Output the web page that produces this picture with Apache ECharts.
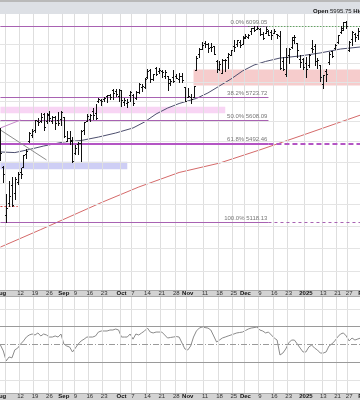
<!DOCTYPE html>
<html><head><meta charset="utf-8">
<script src="https://cdn.jsdelivr.net/npm/echarts@6/dist/echarts.min.js"></script>
<style>html,body{margin:0;padding:0;background:#fff}#c{width:360px;height:400px}</style>
</head><body><div id="c"></div>
<script>
const dates = [
'2024-08-01','2024-08-02','2024-08-05','2024-08-06','2024-08-07','2024-08-08','2024-08-09','2024-08-12','2024-08-13','2024-08-14','2024-08-15','2024-08-16','2024-08-19','2024-08-20','2024-08-21','2024-08-22','2024-08-23','2024-08-26','2024-08-27','2024-08-28','2024-08-29','2024-08-30',
'2024-09-03','2024-09-04','2024-09-05','2024-09-06','2024-09-09','2024-09-10','2024-09-11','2024-09-12','2024-09-13','2024-09-16','2024-09-17','2024-09-18','2024-09-19','2024-09-20','2024-09-23','2024-09-24','2024-09-25','2024-09-26','2024-09-27','2024-09-30',
'2024-10-01','2024-10-02','2024-10-03','2024-10-04','2024-10-07','2024-10-08','2024-10-09','2024-10-10','2024-10-11','2024-10-14','2024-10-15','2024-10-16','2024-10-17','2024-10-18','2024-10-21','2024-10-22','2024-10-23','2024-10-24','2024-10-25','2024-10-28','2024-10-29','2024-10-30','2024-10-31',
'2024-11-01','2024-11-04','2024-11-05','2024-11-06','2024-11-07','2024-11-08','2024-11-11','2024-11-12','2024-11-13','2024-11-14','2024-11-15','2024-11-18','2024-11-19','2024-11-20','2024-11-21','2024-11-22','2024-11-25','2024-11-26','2024-11-27','2024-11-29',
'2024-12-02','2024-12-03','2024-12-04','2024-12-05','2024-12-06','2024-12-09','2024-12-10','2024-12-11','2024-12-12','2024-12-13','2024-12-16','2024-12-17','2024-12-18','2024-12-19','2024-12-20','2024-12-23','2024-12-24','2024-12-26','2024-12-27','2024-12-30','2024-12-31',
'2025-01-02','2025-01-03','2025-01-06','2025-01-07','2025-01-08','2025-01-10','2025-01-13','2025-01-14','2025-01-15','2025-01-16','2025-01-17','2025-01-21','2025-01-22','2025-01-23','2025-01-24','2025-01-27','2025-01-28','2025-01-29','2025-01-30','2025-01-31',
'2025-02-03'];

const opens = [5537,5376,5151,5206,5293,5252,5305,5351,5376,5442,5504,5531,5557,5602,5603,5637,5603,5639,5602,5624,5607,5612,
5623,5506,5520,5507,5443,5490,5496,5558,5603,5615,5655,5641,5703,5709,5712,5727,5733,5762,5755,5727,
5758,5698,5696,5737,5737,5719,5751,5778,5775,5829,5866,5816,5872,5859,5857,5832,5834,5817,5826,5833,5819,5832,5776,
5723,5725,5722,5864,5947,5977,6008,6003,5985,5989,5913,5870,5850,5917,5935,5944,5992,6000,6015,6003,
6040,6042,6070,6089,6082,6083,6058,6061,6074,6069,6063,6053,6047,5912,5842,5941,5984,6025,6006,5920,5920,
5903,5892,5982,5993,5911,5890,5789,5859,5905,5965,5979,6015,6069,6076,6122,5970,6027,6058,6050,6096,
5969];
const highs = [5566,5383,5250,5312,5330,5328,5351,5371,5436,5463,5546,5563,5608,5620,5643,5643,5641,5651,5630,5627,5646,5651,
5623,5553,5551,5523,5484,5497,5560,5600,5636,5637,5670,5690,5721,5716,5725,5735,5742,5767,5764,5763,
5758,5720,5715,5753,5739,5757,5796,5792,5822,5871,5870,5843,5878,5872,5866,5863,5834,5817,5862,5842,5847,5850,5776,
5772,5741,5783,5936,5983,6013,6018,6009,6008,5993,5915,5909,5924,5921,5954,5972,6021,6025,6021,6045,
6053,6053,6087,6099,6100,6089,6065,6093,6079,6079,6085,6057,6070,5935,5982,5978,6040,6049,6007,5941,5929,
5935,5950,6021,6001,5928,5890,5838,5871,5961,5965,6001,6051,6100,6119,6128,6017,6070,6062,6086,6120,
6022];
const lows = [5410,5306,5119,5193,5195,5224,5294,5324,5376,5419,5497,5525,5550,5585,5598,5560,5591,5602,5593,5561,5583,5584,
5521,5504,5489,5402,5442,5442,5406,5536,5601,5604,5614,5615,5698,5681,5704,5698,5713,5715,5731,5703,
5676,5683,5673,5704,5686,5714,5745,5757,5771,5824,5804,5810,5840,5846,5825,5822,5762,5784,5800,5823,5802,5800,5703,
5723,5696,5722,5864,5935,5976,5987,5961,5965,5946,5853,5865,5850,5860,5875,5944,5964,5992,5984,6003,
6034,6034,6057,6071,6081,6048,6026,6060,6051,6030,6059,6035,5867,5866,5832,5903,5981,6007,5933,5879,5869,
5829,5880,5960,5890,5874,5809,5773,5807,5897,5931,5976,6007,6062,6075,6088,5962,5994,6020,6027,6030,
5923];
const closes = [5446,5346,5186,5240,5199,5319,5344,5344,5434,5455,5543,5554,5608,5597,5621,5571,5634,5617,5625,5592,5592,5648,
5529,5520,5503,5408,5471,5496,5554,5596,5626,5633,5634,5618,5714,5703,5718,5732,5722,5745,5738,5762,
5709,5709,5699,5751,5696,5751,5792,5780,5815,5859,5815,5842,5841,5864,5853,5851,5797,5809,5808,5823,5832,5813,5705,
5728,5712,5782,5929,5973,5996,6001,5983,5985,5949,5871,5893,5917,5917,5949,5970,5987,6021,5999,6032,
6047,6050,6086,6075,6090,6053,6034,6085,6051,6051,6074,6050,5872,5867,5931,5974,6040,6037,5971,5907,5882,
5869,5942,5975,5909,5918,5827,5836,5843,5950,5937,5997,6049,6086,6119,6101,6012,6068,6039,6071,6041,
5994];

const rsiValues = [49.4,42.7,31.5,36,35,44,46,50.6,54,58.4,
60.7,61.8,60.7,63,59.6,61.8,60.7,58.4,58.4,59.6,
58.4,61.8,50.6,48.3,47.2,41.6,46,50.6,54,56,
58.4,58.4,58.4,59.6,64,65.2,65.2,65.2,66.3,66.3,
67.4,66.3,58.4,58.4,58.4,61.8,56,61.8,60.7,63,
65.2,68.5,64,63,64,64,64,60.7,57.3,57.9,
58.4,59,58.4,51.7,45,43.8,48.3,58.4,65.2,68.5,
69.7,69,68.5,66.3,59.6,52.8,55,57.3,58.4,59.6,
60.7,61.8,63,63.5,64,65.7,67.4,68.5,69,69.7,
66.3,65.2,63,64,60.7,57.3,55,38.2,40.4,45,
51.7,55,55,50.6,46,41.6,41.6,47.2,49.4,46,
43.8,40.4,40.4,41.6,48.3,50.6,54,58.4,61.8,63,
59.6,54,57.3,55,56.2,57.3,null];

const ma50Dates  = ['2024-08-01','2024-08-08','2024-08-15','2024-08-22','2024-09-03','2024-09-11','2024-09-19','2024-09-27','2024-10-07','2024-10-11','2024-10-17','2024-10-23','2024-10-29','2024-11-01','2024-11-06','2024-11-12','2024-11-18','2024-11-22','2024-11-29','2024-12-05','2024-12-11','2024-12-18','2024-12-30','2025-01-10','2025-01-22','2025-01-31'];
const ma50Values = [5450,5447,5462,5479,5499,5506,5523,5543,5568,5598,5638,5668,5691,5704,5717,5745,5781,5817,5859,5890,5909,5927,5938,5954,5975,5986];
const ma200Dates  = ['2024-08-01','2024-08-21','2024-09-20','2024-10-09','2024-10-29','2024-11-18','2024-12-09','2024-12-30','2025-01-31'];
const ma200Values = [5006,5085,5209,5282,5351,5396,5460,5528,5633];

const fibPct    = ['0.0%','38.2%','50.0%','61.8%','100.0%'];
const fibLevels = [6099.05,5723.72,5608.09,5492.46,5118.13];
const priceGrid = [4900,5000,5100,5200,5300,5400,5500,5600,5700,5800,5900,6000,6100];
const rsiLevels = [70,50,30];
const rsiGrid = [10,90];

const pinkZone = {from:'2024-08-01', to:'2024-11-20', top:5675, bottom:5642};
const blueZone = {from:'2024-08-01', to:'2024-10-03', top:5403, bottom:5367};
const redZone  = {from:'2024-11-05', to:'2025-02-03', top:5867, bottom:5783};
const trendA = [['2024-08-01',5568],['2024-08-12',5608]];
const trendB = [['2024-08-01',5558],['2024-08-23',5411]];
const supportLine = [['2024-08-01',5193],['2024-08-09',5193]];

const tickDates = ['2024-08-01','2024-08-12','2024-08-19','2024-08-26','2024-09-03','2024-09-09','2024-09-16','2024-09-23','2024-10-01','2024-10-07','2024-10-14','2024-10-21','2024-10-28','2024-11-01','2024-11-11','2024-11-18','2024-11-25','2024-12-02','2024-12-09','2024-12-16','2024-12-23','2025-01-02','2025-01-13','2025-01-21','2025-01-27','2025-02-03'];
const tickText  = ['Aug','12','19','26','Sep','9','16','23','Oct','7','14','21','28','Nov','11','18','25','Dec','9','16','23','2025','13','21','27','Feb'];
const headerOpen = '5995.75';

// ---------------------------------------------------------------
const tickMap = {}; tickDates.forEach((d,i)=>{tickMap[d]=tickText[i];});
const gridSet = new Set(tickDates.concat(['2024-08-05']));
const ohlc = dates.map((d,i)=>[i, opens[i], highs[i], lows[i], closes[i]]);
const last = dates[dates.length-1];
const FONT = 'Liberation Sans';

function xAxis(gi){
  return {
    type:'category', gridIndex:gi, data:dates, boundaryGap:true, z:5,
    axisLine:{show:false}, axisTick:{show:false},
    axisLabel:{
      interval:(i,v)=>v in tickMap, margin:0, fontSize:6, lineHeight:7, color:'#333', fontFamily:FONT,
      formatter:v=>{const t=tickMap[v]; if(t===undefined) return ''; return /^\d{1,2}$/.test(t)?t:'{b|'+t+'}';},
      rich:{b:{fontWeight:'bold',fontSize:6,lineHeight:7,color:'#111',fontFamily:FONT}}
    },
    splitLine:{show:true, interval:(i,v)=>gridSet.has(v), lineStyle:{color:'#dedede',width:1}}
  };
}

function renderOHLC(params, api){
  const i = api.value(0);
  const o = api.coord([i, api.value(1)]);
  const h = api.coord([i, api.value(2)]);
  const l = api.coord([i, api.value(3)]);
  const c = api.coord([i, api.value(4)]);
  const cx = Math.round(o[0]) + 0.5;
  const yo = Math.round(o[1]) + 0.5, yc = Math.round(c[1]) + 0.5;
  const st = {stroke:'#111', lineWidth:1};
  return {type:'group', children:[
    {type:'line', shape:{x1:cx,y1:Math.round(h[1]),x2:cx,y2:Math.round(l[1])+1}, style:st},
    {type:'line', shape:{x1:cx-1.5,y1:yo,x2:cx,y2:yo}, style:st},
    {type:'line', shape:{x1:cx,y1:yc,x2:cx+1.5,y2:yc}, style:st}
  ]};
}

const fibSegs = [];
fibLevels.forEach((lv,i)=>{
  const thick = fibPct[i]==='61.8%';
  fibSegs.push([
    {coord:[dates[0],lv], lineStyle:{color:thick?'#b455c4':'#a862b2', width:thick?2:1, type:'solid'},
     label:{show:true, position:'insideEndTop', formatter:fibPct[i]+' '+lv.toFixed(2), color:'#777', fontSize:6, fontFamily:FONT, distance:1}},
    {coord:['2024-12-12',lv]}
  ]);
});
fibSegs.push([{coord:['2024-12-03',fibLevels[0]], lineStyle:{color:'#2e8b2e',width:1,type:[1,2]}, label:{show:false}},{coord:[last,fibLevels[0]]}]);
fibSegs.push([{coord:['2024-12-12',fibLevels[3]], lineStyle:{color:'#b455c4',width:2,type:[5,3]}, label:{show:false}},{coord:[last,fibLevels[3]]}]);
fibSegs.push([{coord:['2024-12-12',fibLevels[4]], lineStyle:{color:'#a862b2',width:1,type:[3,3]}, label:{show:false}},{coord:[last,fibLevels[4]]}]);
fibSegs.push([{coord:trendA[0], lineStyle:{color:'#c58ac8',width:1,type:'solid'}, label:{show:false}},{coord:trendA[1]}]);
fibSegs.push([{coord:trendB[0], lineStyle:{color:'#8c8c8c',width:1,type:'solid'}, label:{show:false}},{coord:trendB[1]}]);
fibSegs.push([{coord:supportLine[0], lineStyle:{color:'#d04848',width:1,type:[2,2]}, label:{show:false}},{coord:supportLine[1]}]);

const zone = (z,color)=>[{coord:[z.from,z.top], itemStyle:{color}},{coord:[z.to,z.bottom]}];

const option = {
  animation:false,
  backgroundColor:'#fff',
  grid:[
    {left:-1, top:14, width:366, height:276, containLabel:false, outerBoundsMode:'none'},
    {left:-1, top:297, width:366, height:96, containLabel:false, outerBoundsMode:'none'}
  ],
  xAxis:[xAxis(0), xAxis(1)],
  yAxis:[
    {type:'log', logBase:10, gridIndex:0, min:4817.7, max:6164.8, show:false},
    {type:'value', gridIndex:1, min:-4.5, max:103.4, show:false}
  ],
  graphic:{elements:[
    {type:'rect', z:-1, shape:{x:0,y:0,width:360,height:14}, style:{fill:'#dde0e5'}},
    {type:'rect', z:-1, shape:{x:0,y:0,width:360,height:2}, style:{fill:'#b9b9b9'}},
    {type:'rect', z:-1, shape:{x:-1,y:290.5,width:362,height:6}, style:{fill:'#d3d3d3', stroke:'#aaaaaa', lineWidth:1}},
    {type:'rect', z:-1, shape:{x:-1,y:393.5,width:362,height:8}, style:{fill:'#d3d3d3', stroke:'#aaaaaa', lineWidth:1}},
    {type:'text', z:10, x:313, y:11, style:{text:'{b|Open} '+headerOpen+' {b|High}', fill:'#222', font:'6px '+FONT, verticalAlign:'middle',
      rich:{b:{fontWeight:'bold', fontSize:6, fontFamily:FONT, fill:'#111'}}}}
  ]},
  series:[
    {name:'grid', type:'line', xAxisIndex:0, yAxisIndex:0, data:[], z:1, silent:true,
     markLine:{silent:true, symbol:['none','none'], label:{show:false}, lineStyle:{color:'#e4e4e4',type:'solid',width:1},
       data:priceGrid.map(p=>({yAxis:p}))}},
    {name:'zones', type:'line', xAxisIndex:0, yAxisIndex:0, data:[], z:2, silent:true,
     markArea:{silent:true, data:[zone(pinkZone,'rgba(244,190,238,0.65)'), zone(blueZone,'rgba(190,190,242,0.75)'), zone(redZone,'rgba(240,170,170,0.6)')]}},
    {name:'fib', type:'line', xAxisIndex:0, yAxisIndex:0, data:[], z:3, silent:true,
     markLine:{silent:true, symbol:['none','none'], data:fibSegs}},
    {name:'ma200', type:'line', xAxisIndex:0, yAxisIndex:0, z:4, symbol:'none', silent:true,
     lineStyle:{color:'#d46a6a', width:1}, data:ma200Dates.map((d,i)=>[d,ma200Values[i]])},
    {name:'ma50', type:'line', xAxisIndex:0, yAxisIndex:0, z:4, symbol:'none', silent:true,
     lineStyle:{color:'#4d4f6e', width:1}, data:ma50Dates.map((d,i)=>[d,ma50Values[i]])},
    {name:'price', type:'custom', xAxisIndex:0, yAxisIndex:0, z:6, silent:true,
     renderItem:renderOHLC, encode:{x:0, y:[1,2,3,4]}, data:ohlc},
    {name:'rsi', type:'line', xAxisIndex:1, yAxisIndex:1, z:4, symbol:'none', silent:true,
     lineStyle:{color:'#8a8a8a', width:1}, data:rsiValues,
     markLine:{silent:true, symbol:['none','none'], label:{show:false},
       data:rsiLevels.map(v=>({yAxis:v, lineStyle:{color:'#9a9a9a', width:1, type: v===50?[6,2,1,2]:'solid'}}))
         .concat(rsiGrid.map(v=>({yAxis:v, lineStyle:{color:'#e3e3e3', width:1, type:'solid'}})))}}
  ]
};
const chart = echarts.init(document.getElementById('c'));
chart.setOption(option);
</script>
</body></html>
